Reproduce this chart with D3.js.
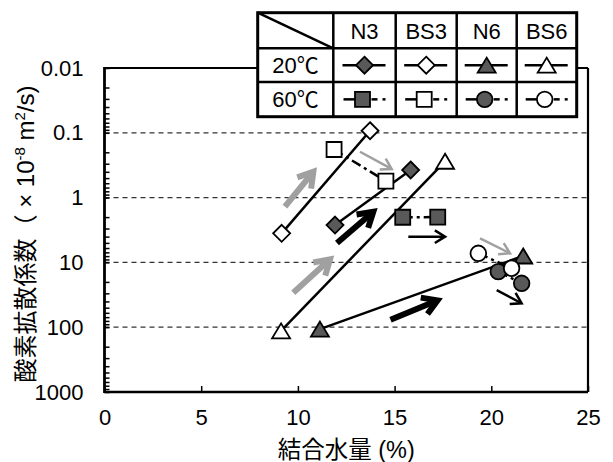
<!DOCTYPE html>
<html><head><meta charset="utf-8">
<script src="https://cdn.jsdelivr.net/npm/d3@7"></script>
<style>
body{margin:0;background:#fff}
svg{display:block}
text{font-family:"Liberation Sans",Arial,"Noto Sans CJK JP",sans-serif;fill:#000}
</style>
</head><body>
<svg id="c" width="613" height="462"></svg>
<script>
// ---- data ----
const xTicks=[0,5,10,15,20,25];
const yTicks=[0.01,0.1,1,10,100,1000];
const yTickLabels=["0.01","0.1","1","10","100","1000"];
const gridValues=[0.1,1,10,100];
const samples=["N3","BS3","N6","BS6"];
const temps=["20℃","60℃"];

const N3_20_x=[11.92,15.83],  N3_20_y=[2.65,0.375];
const BS3_20_x=[9.16,13.73],  BS3_20_y=[3.56,0.093];
const N6_20_x=[11.14,21.65],  N6_20_y=[107,7.96];
const BS6_20_x=[9.13,17.61],  BS6_20_y=[114,0.275];
const N3_60_x=[15.42,17.23],  N3_60_y=[2.01,2.0];
const BS3_60_x=[11.87,14.55], BS3_60_y=[0.181,0.558];
const N6_60_x=[20.36,21.57],  N6_60_y=[13.9,21.0];
const BS6_60_x=[19.33,21.05], BS6_60_y=[7.24,12.3];

// annotation arrows (data coordinates)
const arrowX0=[9.33,9.76,12.02,14.79,13.21,15.71,19.42,20.28];
const arrowY0=[1.38,29.4,5.02,76.6,0.196,4.01,4.25,26.7];
const arrowX1=[10.80,11.66,13.90,17.22,14.85,17.61,20.97,21.57];
const arrowY1=[0.398,8.96,1.65,38.5,0.362,4.01,7.24,42.8];
const arrowKind=["grayThick","grayThick","blackThick","blackThick","grayThin","blackThin","grayThin","blackThin"];

// ---- styles ----
const DARK="#595959", GRAY="#a0a0a0";
const DASH60="10,4,3,4";
const shapes=["diamond","diamond","triangle","triangle","square","square","circle","circle"];
const fills=[DARK,"#fff",DARK,"#fff",DARK,"#fff",DARK,"#fff"];
const seriesX=[N3_20_x,BS3_20_x,N6_20_x,BS6_20_x,N3_60_x,BS3_60_x,N6_60_x,BS6_60_x];
const seriesY=[N3_20_y,BS3_20_y,N6_20_y,BS6_20_y,N3_60_y,BS3_60_y,N6_60_y,BS6_60_y];

const svg=d3.select("#c");
const L=104.5,R=588,T=68,B=392;
const x=d3.scaleLinear().domain([0,25]).range([L,R]);
const y=d3.scaleLog().domain([0.01,1000]).range([T,B]);

function markerPath(shape){
  switch(shape){
    case "diamond": return "M0,-8.5L8.5,0L0,8.5L-8.5,0Z";
    case "square": return "M-7.5,-7.5H7.5V7.5H-7.5Z";
    case "triangle": return "M0,-7.5L9,7.5L-9,7.5Z";
    case "circle": return d3.arc()({innerRadius:0,outerRadius:7.8,startAngle:0,endAngle:2*Math.PI})+"Z";
  }
}

// grid
svg.append("g").selectAll("line").data(gridValues).join("line")
  .attr("x1",L).attr("x2",R).attr("y1",d=>y(d)).attr("y2",d=>y(d))
  .attr("stroke","#333").attr("stroke-width",1.2).attr("stroke-dasharray","5,4");

// y minor ticks (inside)
const gy=svg.append("g").attr("transform",`translate(${L},0)`)
  .call(d3.axisLeft(y).tickValues(y.ticks()).tickSizeInner(-5).tickSizeOuter(0).tickFormat(""));
gy.select(".domain").remove();
gy.selectAll("line").attr("stroke","#000").attr("stroke-width",1.5);
// y labels
const gyl=svg.append("g").attr("transform",`translate(${L},0)`)
  .call(d3.axisLeft(y).tickValues(yTicks).tickSize(0).tickPadding(21).tickFormat((d,i)=>yTickLabels[i]));
gyl.select(".domain").remove();
gyl.selectAll("text").attr("font-size",22).attr("font-family","Liberation Sans, Arial, sans-serif");

// x axis
const gx=svg.append("g").attr("transform",`translate(0,${B})`)
  .call(d3.axisBottom(x).tickValues(xTicks).tickSizeInner(-6).tickSizeOuter(0).tickPadding(17));
gx.select(".domain").remove();
gx.selectAll("line").attr("stroke","#000").attr("stroke-width",1.5);
gx.selectAll("text").attr("font-size",22).attr("font-family","Liberation Sans, Arial, sans-serif");

// frame
svg.append("line").attr("x1",L).attr("x2",R).attr("y1",T).attr("y2",T).attr("stroke","#000").attr("stroke-width",2);
svg.append("line").attr("x1",R).attr("x2",R).attr("y1",T).attr("y2",B).attr("stroke","#000").attr("stroke-width",2.2);
svg.append("line").attr("x1",L).attr("x2",R).attr("y1",B).attr("y2",B).attr("stroke","#000").attr("stroke-width",2.6);
svg.append("line").attr("x1",L).attr("x2",L).attr("y1",T-1).attr("y2",B+1).attr("stroke","#000").attr("stroke-width",2.8);

// axis titles
svg.append("text").attr("x",(L+R)/2).attr("y",458).attr("text-anchor","middle")
  .attr("font-size",23.5).text("結合水量 (%)");
const yt=svg.append("text").attr("transform",`translate(34,234) rotate(-90)`).attr("text-anchor","middle").attr("font-size",24);
yt.append("tspan").text("酸素拡散係数（ × 10");
yt.append("tspan").attr("dy",-9).attr("font-size",15).text("-8");
yt.append("tspan").attr("dy",9).text("  m");
yt.append("tspan").attr("dy",-9).attr("font-size",15).text("2");
yt.append("tspan").attr("dy",9).text("/s)");

// arrows
function arrowStyle(k){
  return {
    grayThick:{c:GRAY,w:6,h:17},
    blackThick:{c:"#000",w:6,h:17},
    grayThin:{c:GRAY,w:2.5,h:12},
    blackThin:{c:"#000",w:2.5,h:12}
  }[k];
}
const ag=svg.append("g");
arrowKind.forEach((k,i)=>{
  const s=arrowStyle(k);
  const x0=x(arrowX0[i]),y0=y(arrowY0[i]),x1=x(arrowX1[i]),y1=y(arrowY1[i]);
  const a=Math.atan2(y1-y0,x1-x0), sp=0.55;
  ag.append("line").attr("x1",x0).attr("y1",y0).attr("x2",x1-Math.cos(a)*s.w*0.5).attr("y2",y1-Math.sin(a)*s.w*0.5)
    .attr("stroke",s.c).attr("stroke-width",s.w);
  const p1=[x1-s.h*Math.cos(a-sp),y1-s.h*Math.sin(a-sp)];
  const p2=[x1-s.h*Math.cos(a+sp),y1-s.h*Math.sin(a+sp)];
  ag.append("path").attr("d",`M${p1}L${x1},${y1}L${p2}`).attr("fill","none")
    .attr("stroke",s.c).attr("stroke-width",s.w).attr("stroke-linejoin","miter").attr("stroke-miterlimit",10);
});

// series (line then markers, series by series)
const line=d3.line().x(d=>x(d[0])).y(d=>y(d[1]));
seriesX.forEach((xs,i)=>{
  const pts=xs.map((v,j)=>[v,seriesY[i][j]]);
  const g=svg.append("g");
  g.append("path").attr("d",line(pts)).attr("fill","none").attr("stroke","#000").attr("stroke-width",2.5)
    .attr("stroke-dasharray",i>=4?DASH60:null);
  g.selectAll("path.m").data(pts).join("path").attr("class","m")
    .attr("transform",d=>`translate(${x(d[0])},${y(d[1])})`)
    .attr("d",markerPath(shapes[i])).attr("fill",fills[i]).attr("stroke","#000").attr("stroke-width",1.8);
});

// legend table
const colX=[257.7,333.3,395.7,456.7,516.7,576.7];
const rowY=[12.7,48.3,82,116.7];
const tg=svg.append("g");
tg.append("rect").attr("x",colX[0]).attr("y",rowY[0]).attr("width",colX[5]-colX[0]).attr("height",rowY[3]-rowY[0])
  .attr("fill","#fff").attr("stroke","#000").attr("stroke-width",3);
rowY.slice(1,3).forEach(v=>tg.append("line").attr("x1",colX[0]).attr("x2",colX[5]).attr("y1",v).attr("y2",v).attr("stroke","#000").attr("stroke-width",2.5));
colX.slice(1,5).forEach(v=>tg.append("line").attr("x1",v).attr("x2",v).attr("y1",rowY[0]).attr("y2",rowY[3]).attr("stroke","#000").attr("stroke-width",2.5));
tg.append("line").attr("x1",colX[0]).attr("y1",rowY[0]).attr("x2",colX[1]).attr("y2",rowY[1]).attr("stroke","#000").attr("stroke-width",2.5);
samples.forEach((s,i)=>{
  tg.append("text").attr("x",(colX[i+1]+colX[i+2])/2).attr("y",(rowY[0]+rowY[1])/2+8)
    .attr("text-anchor","middle").attr("font-size",22).text(s);
});
temps.forEach((t,r)=>{
  tg.append("text").attr("x",(colX[0]+colX[1])/2).attr("y",(rowY[r+1]+rowY[r+2])/2+8)
    .attr("text-anchor","middle").attr("font-size",22).text(t);
});
samples.forEach((s,c)=>{
  [0,1].forEach(r=>{
    const i=r*4+c;
    const cx=(colX[c+1]+colX[c+2])/2, cy=(rowY[r+1]+rowY[r+2])/2;
    if(r===0){
      tg.append("line").attr("x1",cx-22).attr("x2",cx+21).attr("y1",cy).attr("y2",cy).attr("stroke","#000").attr("stroke-width",2.5);
    } else {
      tg.append("line").attr("x1",cx-21).attr("x2",cx-9).attr("y1",cy).attr("y2",cy).attr("stroke","#000").attr("stroke-width",2.5);
      tg.append("line").attr("x1",cx+7).attr("x2",cx+13).attr("y1",cy).attr("y2",cy).attr("stroke","#000").attr("stroke-width",2.5);
      tg.append("line").attr("x1",cx+18).attr("x2",cx+21).attr("y1",cy).attr("y2",cy).attr("stroke","#000").attr("stroke-width",2.5);
    }
    tg.append("path").attr("transform",`translate(${cx-(r===1?2:0)},${cy})`).attr("d",markerPath(shapes[i]))
      .attr("fill",fills[i]).attr("stroke","#000").attr("stroke-width",1.8);
  });
});
</script>
</body></html>
